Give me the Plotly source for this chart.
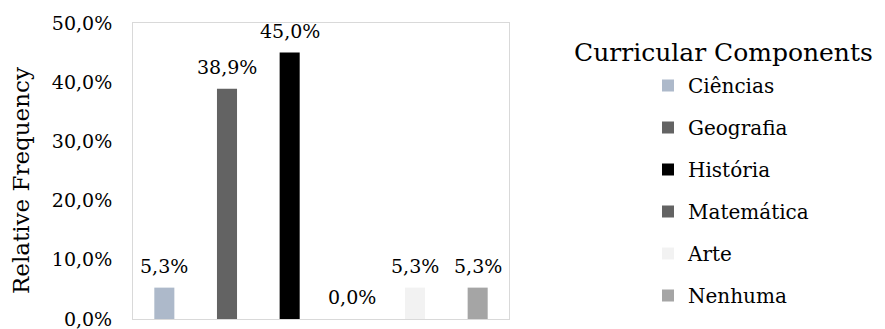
import plotly.graph_objects as go

categories = ["Ciências", "Geografia", "História", "Matemática", "Arte", "Nenhuma"]
values = [5.3, 38.9, 45.0, 0.0, 5.3, 5.3]
colors = ["#adb9ca", "#636363", "#000000", "#636363", "#f2f2f2", "#a5a5a5"]
y_ticks = [0, 10, 20, 30, 40, 50]
y_tick_text = [f"{v:.1f}%".replace(".", ",") for v in y_ticks]
value_labels = [f"{v:.1f}%".replace(".", ",") for v in values]

FONT = "DejaVu Serif"
L, R, T, B, W, H = 133, 376, 23, 10, 885, 329
PH = H - T - B
PW = W - L - R

def px_x(x):
    return (x - L) / PW

def px_y(y):
    return (H - B - y) / PH

fig = go.Figure()
for c, v, col in zip(categories, values, colors):
    fig.add_trace(go.Bar(
        x=[c], y=[v], name=c, marker=dict(color=col, line=dict(width=0)),
        width=0.32, cliponaxis=False, legendgroup=c,
    ))

annotations = [
    dict(text="Curricular Components", xref="paper", x=px_x(723), xanchor="center",
         yref="paper", y=px_y(52), yanchor="middle",
         showarrow=False, font=dict(family=FONT, size=25, color="#000000")),
    dict(text="Relative Frequency", xref="paper", x=px_x(21), xanchor="center",
         yref="paper", y=px_y(181), yanchor="middle", textangle=-90,
         showarrow=False, font=dict(family=FONT, size=23, color="#000000")),
]
for c, v, lab in zip(categories, values, value_labels):
    annotations.append(dict(
        text=lab, x=c, y=v, xref="x", yref="y", xanchor="center", yanchor="bottom",
        yshift=9, showarrow=False, font=dict(family=FONT, size=19, color="#000000"),
    ))

fig.update_layout(
    width=W, height=H,
    margin=dict(l=L, r=R, t=T, b=B, autoexpand=False),
    paper_bgcolor="white", plot_bgcolor="white",
    barmode="relative",
    font=dict(family=FONT, size=19, color="#000000"),
    showlegend=True,
    legend=dict(
        x=px_x(648), xanchor="left", y=px_y(66), yanchor="top",
        font=dict(family=FONT, size=20, color="#000000"),
        tracegroupgap=13, traceorder="grouped",
        itemwidth=30,
    ),
    annotations=annotations,
)
fig.update_xaxes(showticklabels=False, showgrid=False, showline=True, mirror=True,
                 linecolor="#d9d9d9", linewidth=1, ticks="", automargin=False)
fig.update_yaxes(range=[0, 50], tickvals=y_ticks, ticktext=y_tick_text,
                 ticklabeloverflow="allow", automargin=False,
                 showgrid=False, zeroline=False, showline=True, mirror=True,
                 linecolor="#d9d9d9", linewidth=1, ticks="outside", ticklen=16,
                 tickcolor="rgba(0,0,0,0)",
                 tickfont=dict(family=FONT, size=19, color="#000000"))

fig.write_html("out.html")
